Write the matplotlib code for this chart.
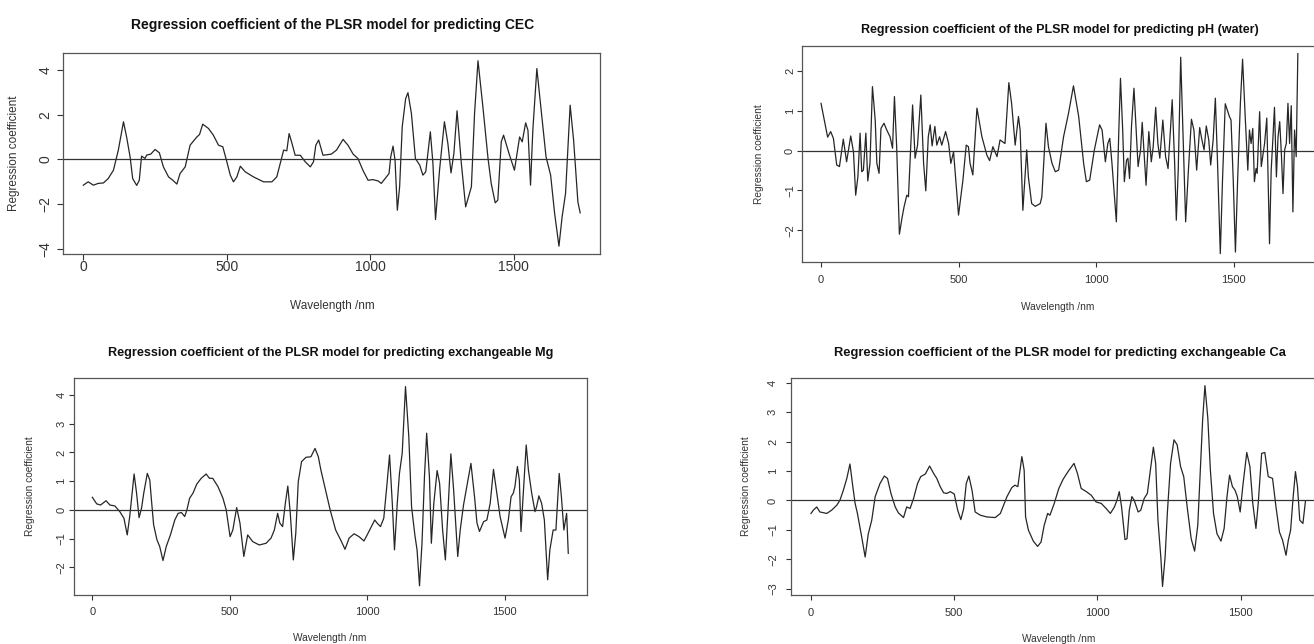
import matplotlib
matplotlib.use("Agg")
import matplotlib.pyplot as plt

W, H = 1314, 644

# PLSR regression coefficients, one pair of lists per soil property
cec_wl = [0, 17, 35, 52, 70, 87, 105, 122, 140, 151,
          163, 172, 186, 195, 203, 215, 221, 235, 250, 265,
          279, 297, 312, 326, 337, 355, 372, 395, 405, 416,
          436, 453, 471, 486, 500, 512, 523, 535, 547, 564,
          593, 628, 657, 674, 686, 698, 709, 717, 727, 738,
          756, 773, 791, 802, 810, 820, 835, 864, 882, 905,
          922, 940, 957, 974, 992, 1009, 1027, 1038, 1056, 1065,
          1071, 1079, 1086, 1094, 1102, 1111, 1123, 1131, 1143, 1157,
          1172, 1183, 1193, 1209, 1218, 1227, 1241, 1258, 1270, 1281,
          1291, 1302, 1317, 1332, 1352, 1363, 1375, 1392, 1410, 1421,
          1435, 1444, 1456, 1464, 1483, 1502, 1520, 1529, 1541, 1549,
          1558, 1566, 1580, 1595, 1612, 1628, 1642, 1657, 1668, 1680,
          1696, 1708, 1723, 1731]
cec_coef = [-1.15, -1.0, -1.15, -1.07, -1.05, -0.85, -0.48, 0.42, 1.69, 1.0,
            0.12, -0.85, -1.16, -0.93, 0.15, 0.05, 0.2, 0.24, 0.45, 0.3,
            -0.33, -0.78, -0.93, -1.1, -0.63, -0.33, 0.64, 1.0, 1.12, 1.58,
            1.39, 1.09, 0.64, 0.57, -0.1, -0.7, -1.0, -0.78, -0.3, -0.55,
            -0.78, -1.0, -1.0, -0.78, -0.18, 0.42, 0.39, 1.16, 0.72, 0.19,
            0.19, -0.1, -0.33, -0.1, 0.64, 0.87, 0.19, 0.24, 0.42, 0.9,
            0.64, 0.24, 0.04, -0.48, -0.93, -0.9, -0.96, -1.07, -0.78, -0.63,
            0.12, 0.6, -0.03, -2.27, -1.22, 1.46, 2.73, 2.99, 2.06, 0.04,
            -0.25, -0.7, -0.55, 1.24, -0.18, -2.69, -0.48, 1.69, 0.72, -0.6,
            0.27, 2.18, -0.18, -2.12, -1.22, 2.06, 4.42, 2.36, 0.04, -1.07,
            -1.94, -1.82, 0.79, 1.09, 0.27, -0.48, 1.01, 0.79, 1.64, 1.31,
            -1.15, 1.31, 4.07, 2.21, 0.12, -0.7, -2.42, -3.88, -2.57, -1.52,
            2.43, 0.87, -1.9, -2.39]

ph_wl = [0, 15, 24, 35, 45, 57, 67, 81, 93, 108,
         118, 126, 134, 142, 148, 154, 163, 170, 178, 187,
         197, 203, 211, 218, 229, 239, 251, 260, 267, 275,
         285, 294, 302, 312, 318, 333, 342, 351, 363, 373,
         381, 390, 397, 404, 414, 421, 431, 439, 453, 464,
         472, 482, 500, 516, 528, 536, 542, 552, 567, 585,
         603, 613, 625, 640, 651, 669, 683, 693, 706, 718,
         724, 734, 748, 754, 766, 779, 797, 803, 818, 827,
         840, 852, 864, 882, 900, 918, 937, 955, 965, 977,
         994, 1013, 1022, 1034, 1043, 1050, 1058, 1074, 1083, 1089,
         1097, 1103, 1111, 1116, 1122, 1129, 1138, 1146, 1153, 1162,
         1168, 1174, 1182, 1192, 1201, 1208, 1217, 1225, 1232, 1243,
         1253, 1262, 1271, 1277, 1286, 1292, 1299, 1308, 1316, 1326,
         1336, 1347, 1356, 1366, 1377, 1384, 1393, 1401, 1410, 1417,
         1426, 1434, 1442, 1452, 1460, 1470, 1485, 1491, 1499, 1507,
         1515, 1525, 1533, 1542, 1552, 1558, 1564, 1570, 1576, 1582,
         1586, 1595, 1601, 1607, 1613, 1621, 1631, 1637, 1643, 1649,
         1656, 1662, 1668, 1674, 1680, 1686, 1692, 1698, 1704, 1710,
         1716, 1722, 1728, 1734]
ph_coef = [1.19, 0.65, 0.34, 0.48, 0.31, -0.36, -0.4, 0.29, -0.28, 0.37,
           -0.03, -1.12, -0.66, 0.44, -0.53, -0.49, 0.44, -0.76, -0.32, 1.61,
           0.77, -0.32, -0.57, 0.56, 0.69, 0.52, 0.35, 0.06, 1.36, 0.1,
           -2.1, -1.71, -1.41, -1.12, -1.16, 1.15, -0.19, 0.14, 1.4, -0.32,
           -1.01, 0.35, 0.65, 0.12, 0.61, 0.14, 0.35, 0.14, 0.48, 0.18,
           -0.32, -0.03, -1.62, -0.74, 0.14, 0.1, -0.32, -0.61, 1.07, 0.35,
           -0.11, -0.25, 0.1, -0.15, 0.27, 0.18, 1.71, 1.19, 0.14, 0.86,
           0.52, -1.5, 0.02, -0.66, -1.33, -1.4, -1.33, -1.16, 0.69, 0.1,
           -0.32, -0.53, -0.49, 0.35, 0.94, 1.63, 0.86, -0.32, -0.78, -0.74,
           0.02, 0.65, 0.52, -0.28, 0.18, 0.31, -0.32, -1.79, 0.52, 1.82,
           0.52, -0.78, -0.24, -0.19, -0.7, 0.61, 1.57, 0.52, -0.4, 0.02,
           0.71, 0.02, -0.87, 0.48, -0.28, 0.1, 1.09, 0.18, -0.19, 0.77,
           -0.15, -0.45, 0.56, 1.28, -0.32, -1.75, -0.49, 2.35, 0.52, -1.79,
           -0.49, 0.79, 0.52, -0.49, 0.58, 0.31, 0.02, 0.62, 0.27, -0.36,
           0.27, 1.32, -0.32, -2.59, -0.74, 1.18, 0.86, 0.77, -0.74, -2.55,
           -0.74, 1.19, 2.3, 0.94, -0.49, 0.52, 0.18, 0.56, -0.78, -0.45,
           -0.57, 0.98, -0.4, -0.11, 0.18, 0.82, -2.34, -0.49, 0.27, 1.09,
           -0.66, 0.35, 0.73, -0.07, -1.08, 0.02, 0.18, 1.19, 0.18, 1.13,
           -1.54, 0.52, -0.15, 2.44]

mg_wl = [0, 16, 30, 50, 64, 82, 100, 115, 127, 136,
         152, 161, 170, 179, 187, 200, 209, 215, 223, 235,
         245, 257, 269, 284, 300, 312, 324, 336, 344, 354,
         366, 380, 396, 414, 426, 438, 457, 475, 487, 501,
         511, 525, 537, 551, 565, 583, 607, 632, 650, 662,
         674, 682, 692, 702, 711, 720, 731, 740, 749, 761,
         777, 795, 810, 822, 831, 849, 865, 885, 903, 919,
         934, 952, 970, 988, 1006, 1027, 1036, 1048, 1060, 1072,
         1081, 1091, 1099, 1109, 1117, 1127, 1139, 1151, 1161, 1173,
         1181, 1190, 1199, 1208, 1216, 1226, 1233, 1242, 1254, 1263,
         1274, 1284, 1293, 1304, 1314, 1329, 1338, 1350, 1362, 1377,
         1390, 1399, 1408, 1423, 1435, 1447, 1459, 1471, 1483, 1501,
         1513, 1523, 1531, 1537, 1546, 1553, 1559, 1568, 1578, 1586,
         1598, 1610, 1616, 1624, 1634, 1644, 1656, 1664, 1676, 1686,
         1698, 1706, 1715, 1725, 1731]
mg_coef = [0.44, 0.21, 0.17, 0.32, 0.17, 0.14, -0.06, -0.29, -0.87, -0.23,
           1.25, 0.58, -0.27, 0.06, 0.58, 1.27, 1.04, 0.35, -0.52, -1.04,
           -1.27, -1.76, -1.27, -0.87, -0.35, -0.12, -0.09, -0.23, 0.0, 0.41,
           0.58, 0.9, 1.1, 1.25, 1.1, 1.1, 0.81, 0.41, 0.0, -0.93,
           -0.7, 0.08, -0.46, -1.62, -0.87, -1.1, -1.22, -1.16, -0.98, -0.7,
           -0.12, -0.46, -0.58, 0.23, 0.83, -0.12, -1.74, -0.81, 0.98, 1.68,
           1.83, 1.85, 2.14, 1.85, 1.4, 0.65, 0.0, -0.7, -1.04, -1.37,
           -0.98, -0.83, -0.93, -1.08, -0.75, -0.35, -0.46, -0.58, -0.29, 0.93,
           1.91, 0.23, -1.39, 0.23, 1.27, 1.97, 4.29, 2.55, 0.12, -0.87,
           -1.39, -2.64, -1.16, 1.16, 2.67, 1.16, -1.16, 0.23, 1.37, 0.93,
           -0.7, -1.74, -0.12, 1.95, 0.7, -1.62, -0.7, 0.17, 0.81, 1.62,
           0.46, -0.46, -0.75, -0.41, -0.35, 0.23, 1.41, 0.58, -0.23, -0.98,
           -0.35, 0.46, 0.58, 0.81, 1.51, 1.04, -0.75, 0.7, 2.26, 1.39,
           0.58, -0.06, 0.12, 0.49, 0.23, -0.35, -2.43, -1.39, -0.7, -0.7,
           1.27, 0.46, -0.7, -0.12, -1.51]

ca_wl = [0, 8, 20, 31, 55, 72, 90, 101, 113, 125,
         136, 146, 154, 162, 177, 189, 200, 212, 224, 241,
         256, 267, 279, 294, 305, 323, 334, 346, 358, 372,
         383, 399, 414, 428, 439, 451, 463, 474, 486, 500,
         512, 523, 533, 542, 551, 562, 573, 591, 614, 643,
         661, 684, 701, 712, 722, 736, 744, 749, 759, 776,
         791, 803, 814, 826, 834, 849, 865, 880, 897, 918,
         930, 943, 961, 978, 995, 1013, 1030, 1045, 1059, 1068,
         1076, 1084, 1096, 1103, 1111, 1120, 1128, 1142, 1151, 1163,
         1174, 1186, 1195, 1203, 1211, 1221, 1227, 1236, 1244, 1255,
         1267, 1278, 1290, 1301, 1313, 1327, 1339, 1350, 1359, 1367,
         1375, 1385, 1394, 1405, 1417, 1431, 1442, 1452, 1461, 1471,
         1480, 1488, 1498, 1507, 1521, 1532, 1542, 1553, 1561, 1573,
         1584, 1596, 1611, 1623, 1635, 1646, 1658, 1666, 1674, 1683,
         1691, 1698, 1706, 1717, 1726]
ca_coef = [-0.44, -0.33, -0.22, -0.39, -0.44, -0.33, -0.16, 0.01, 0.35, 0.75,
           1.24, 0.47, -0.1, -0.44, -1.24, -1.92, -1.13, -0.67, 0.13, 0.58,
           0.83, 0.75, 0.24, -0.22, -0.42, -0.58, -0.22, -0.27, 0.07, 0.58,
           0.81, 0.9, 1.17, 0.92, 0.75, 0.47, 0.26, 0.24, 0.3, 0.22,
           -0.33, -0.65, -0.27, 0.58, 0.83, 0.35, -0.39, -0.5, -0.56, -0.58,
           -0.44, 0.13, 0.44, 0.52, 0.47, 1.49, 1.03, -0.56, -1.01, -1.38,
           -1.56, -1.41, -0.84, -0.44, -0.5, -0.1, 0.41, 0.72, 0.98, 1.26,
           0.92, 0.41, 0.3, 0.18, -0.05, -0.1, -0.27, -0.44, -0.22, 0.01,
           0.3, -0.22, -1.33, -1.3, -0.33, 0.13, 0.01, -0.39, -0.33, 0.07,
           0.24, 1.15, 1.81, 1.26, -0.67, -1.92, -2.92, -1.92, -0.39, 1.26,
           2.06, 1.89, 1.15, 0.81, -0.22, -1.3, -1.72, -0.84, 1.03, 2.74,
           3.9, 2.8, 1.03, -0.44, -1.13, -1.38, -0.95, 0.13, 0.86, 0.47,
           0.35, 0.13, -0.39, 0.47, 1.63, 1.15, -0.1, -0.95, -0.1, 1.6,
           1.63, 0.81, 0.75, -0.22, -1.07, -1.35, -1.86, -1.35, -1.01, 0.13,
           0.98, 0.47, -0.67, -0.78, -0.01]

titles = ["Regression coefficient of the PLSR model for predicting CEC",
          "Regression coefficient of the PLSR model for predicting pH (water)",
          "Regression coefficient of the PLSR model for predicting exchangeable Mg",
          "Regression coefficient of the PLSR model for predicting exchangeable Ca"]
xticks = [0, 500, 1000, 1500]
yticks_list = [[-4, -2, 0, 2, 4],
               [-2, -1, 0, 1, 2],
               [-2, -1, 0, 1, 2, 3, 4],
               [-3, -2, -1, 0, 1, 2, 3, 4]]

plt.rcParams['font.family'] = ['Liberation Sans', 'DejaVu Sans']

fig = plt.figure(figsize=(W / 100, H / 100), dpi=100)

# layout in pixels: box (left, top, right, bottom), limits, text spots and sizes
layout = [
    dict(box=(63, 52.7, 600, 254), xlim=(-70.7, 1800), ylim=(-4.23, 4.78),
         title_xy=(333, 25), ylab_xy=(14, 153), xlab_xy=(332, 305.7),
         tick_fs=10, lab_fs=8.5, title_fs=10, tlen=4.3, xpad=0.3, ypad=3.5),
    dict(box=(801.7, 45.7, 1316, 262), xlim=(-70.3, 1800), ylim=(-2.80, 2.64),
         title_xy=(1060, 30), ylab_xy=(759, 154), xlab_xy=(1058, 307),
         tick_fs=8, lab_fs=7.3, title_fs=9, tlen=3.8, xpad=5.5, ypad=1.0),
    dict(box=(73.7, 377.7, 586.7, 595), xlim=(-67.7, 1798), ylim=(-2.96, 4.60),
         title_xy=(331, 353), ylab_xy=(30, 486), xlab_xy=(330, 638),
         tick_fs=8, lab_fs=7.3, title_fs=9.1, tlen=3.3, xpad=5.4, ypad=2.0),
    dict(box=(791, 377.7, 1326.7, 595), xlim=(-69.8, 1800), ylim=(-3.21, 4.17),
         title_xy=(1060, 353), ylab_xy=(746, 486), xlab_xy=(1059, 639),
         tick_fs=8, lab_fs=7.3, title_fs=9.3, tlen=3.6, xpad=5.4, ypad=5.8),
]
series = [(cec_wl, cec_coef), (ph_wl, ph_coef), (mg_wl, mg_coef), (ca_wl, ca_coef)]

for (wl, coef), title, yticks, lay in zip(series, titles, yticks_list, layout):
    left, top, right, bottom = lay['box']
    ax = fig.add_axes([left / W, 1 - bottom / H, (right - left) / W, (bottom - top) / H])
    ax.plot(wl, coef, color='#262626', lw=0.9)
    ax.axhline(0, color='#333333', lw=0.9)
    ax.set_xlim(*lay['xlim'])
    ax.set_ylim(*lay['ylim'])
    ax.set_xticks(xticks)
    ax.set_yticks(yticks)
    for sp in ax.spines.values():
        sp.set_color('#555555')
        sp.set_linewidth(0.9)
    ax.tick_params(axis='both', colors='#333333', length=lay['tlen'], width=0.8,
                   labelsize=lay['tick_fs'])
    ax.tick_params(axis='x', pad=lay['xpad'])
    ax.tick_params(axis='y', pad=lay['ypad'], labelrotation=90)
    for lbl in ax.get_yticklabels():
        lbl.set_va('center')

    fig.text(lay['title_xy'][0] / W, 1 - lay['title_xy'][1] / H, title,
             ha='center', va='center', fontsize=lay['title_fs'], fontweight='bold',
             color='#111111')
    fig.text(lay['ylab_xy'][0] / W, 1 - lay['ylab_xy'][1] / H, 'Regression coefficient',
             ha='center', va='center', rotation=90, fontsize=lay['lab_fs'], color='#333333')
    fig.text(lay['xlab_xy'][0] / W, 1 - lay['xlab_xy'][1] / H, 'Wavelength /nm',
             ha='center', va='center', fontsize=lay['lab_fs'], color='#333333')

fig.savefig('out.png', dpi=100)
